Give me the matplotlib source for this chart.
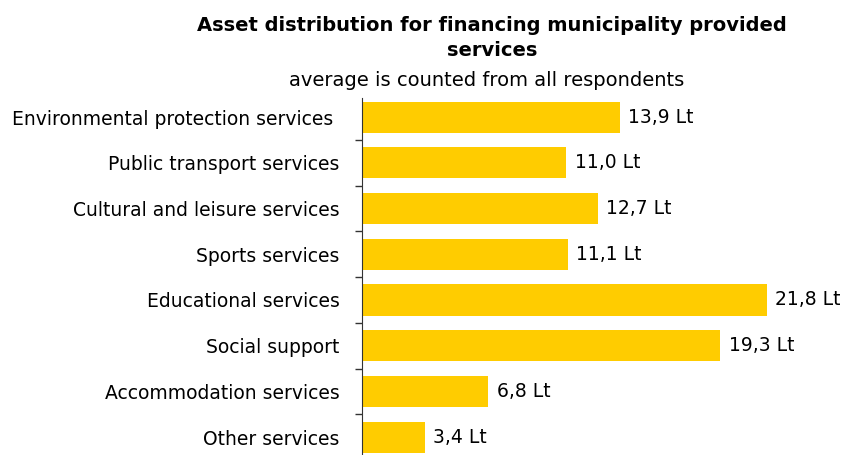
import matplotlib.pyplot as plt
from matplotlib.ticker import FixedLocator
from matplotlib.transforms import ScaledTranslation

services = [
    'Environmental protection services',
    'Public transport services',
    'Cultural and leisure services',
    'Sports services',
    'Educational services',
    'Social support',
    'Accommodation services',
    'Other services',
]
amounts = [13.9, 11.0, 12.7, 11.1, 21.8, 19.3, 6.8, 3.4]

plt.rcParams['font.family'] = ['DejaVu Sans Condensed', 'DejaVu Sans']

fig = plt.figure(figsize=(8.47, 4.55), dpi=100)
ax = fig.add_axes([0.4274, -0.011, 0.5478, 0.804])

pos = list(range(len(services)))
bars = ax.barh(pos, amounts, height=0.68, color='#FFCC00')
ax.set_ylim(len(services) - 0.5, -0.5)
ax.set_xlim(0, 25)

for b, v in zip(bars, amounts):
    ax.text(b.get_width() + 0.45, b.get_y() + b.get_height() / 2,
            f'{v:.1f}'.replace('.', ',') + ' Lt',
            va='center', ha='left', fontsize=13.5)

ax.set_yticks(pos)
ax.set_yticklabels(services, fontsize=13.5)
ax.tick_params(axis='y', which='major', length=0, pad=16)
ax.yaxis.set_minor_locator(FixedLocator([p + 0.5 for p in pos[:-1]]))
ax.tick_params(axis='y', which='minor', length=5, width=1, color='#333333')

# the longest label sits a little further left
first = ax.get_yticklabels()[0]
first.set_transform(first.get_transform() + ScaledTranslation(-0.07, 0, fig.dpi_scale_trans))

ax.set_xticks([])
for side in ['top', 'right', 'bottom']:
    ax.spines[side].set_visible(False)
ax.spines['left'].set_color('#333333')
ax.spines['left'].set_bounds(len(services) - 0.5, -0.42)

fig.text(0.581, 0.945, 'Asset distribution for financing municipality provided',
         ha='center', va='center', fontsize=14, fontweight='bold')
fig.text(0.581, 0.889, 'services', ha='center', va='center',
         fontsize=14, fontweight='bold')
fig.text(0.575, 0.823, 'average is counted from all respondents',
         ha='center', va='center', fontsize=14)

fig.savefig('out.png', dpi=100)
